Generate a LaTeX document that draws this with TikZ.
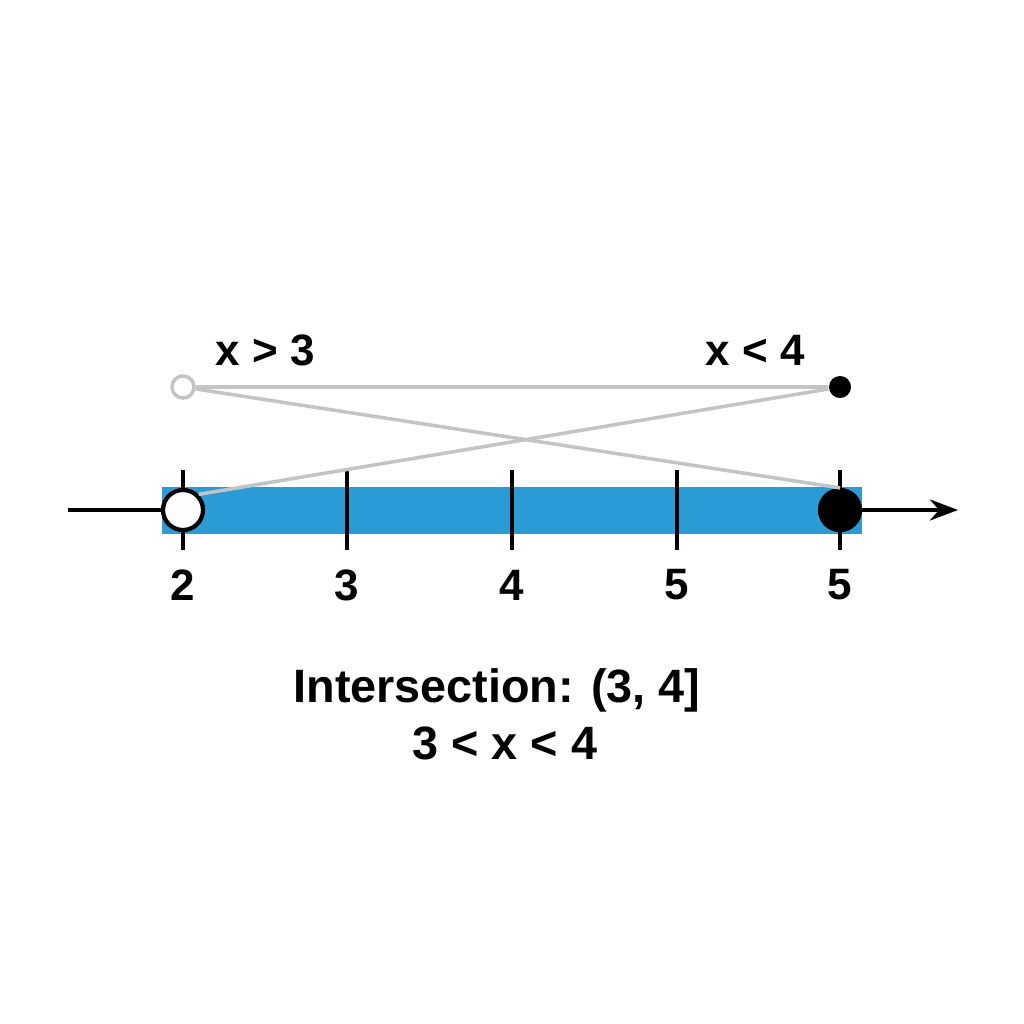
\documentclass[tikz,border=0pt]{standalone}
\usepackage{fontspec}
\setmainfont{Liberation Sans}
\usetikzlibrary{arrows.meta,positioning}
\definecolor{bandblue}{HTML}{2A9BD5}
\definecolor{guide}{HTML}{C4C4C4}
\begin{document}
\begin{tikzpicture}[x=0.01cm,y=-0.01cm,
    tick label/.style={font=\bfseries\fontsize{12.5}{14}\selectfont},
    set label/.style={font=\bfseries\fontsize{12.5}{14}\selectfont},
    result/.style={font=\bfseries\fontsize{13.3}{16}\selectfont},
    big dot/.style={circle,draw=black,line width=1.2pt,minimum size=0.4cm,inner sep=0pt},
    small dot/.style={circle,minimum size=0.22cm,inner sep=0pt}]
  \useasboundingbox[fill=white] (0,0) rectangle (1024,1024);

  % axis and band
  \coordinate (axl) at (68,510);
  \coordinate (axr) at (958,510);
  \draw[line width=1pt,-{Stealth[length=8pt]}] (axl) -- (axr);
  \fill[bandblue] (162,487) rectangle (862,534);

  % ticks and labels
  \foreach \x/\t [count=\i] in {183/2,347/3,512/4,677/5,840/5} {
    \draw[line width=1.4pt] (\x,470) -- (\x,550);
    \node[tick label] (t\i) at (\x,585) {\t};
  }

  % top points
  \node[small dot,draw=guide,fill=white,line width=1pt] (p1) at (183,387) {};
  \node[small dot,fill=black] (p2) at (840,387) {};
  \node[big dot,fill=white] (e1) at (183,510) {};
  \node[big dot,fill=black] (e2) at (840,510) {};

  \draw[guide,line width=1pt] (p1) -- (p2);
  \draw[guide,line width=1pt] (p1) -- (e2.north);
  \draw[guide,line width=1pt] (p2) -- (e1.north east);

  \node[set label] (l1) at (265,350) {x > 3};
  \node[set label] (l2) at (755,350) {x < 4};

  \node[result] (r1) at (497,690) {Intersection: (3, 4]};
  \node[result] (r2) at (505,743) {3 < x < 4};
\end{tikzpicture}
\end{document}
